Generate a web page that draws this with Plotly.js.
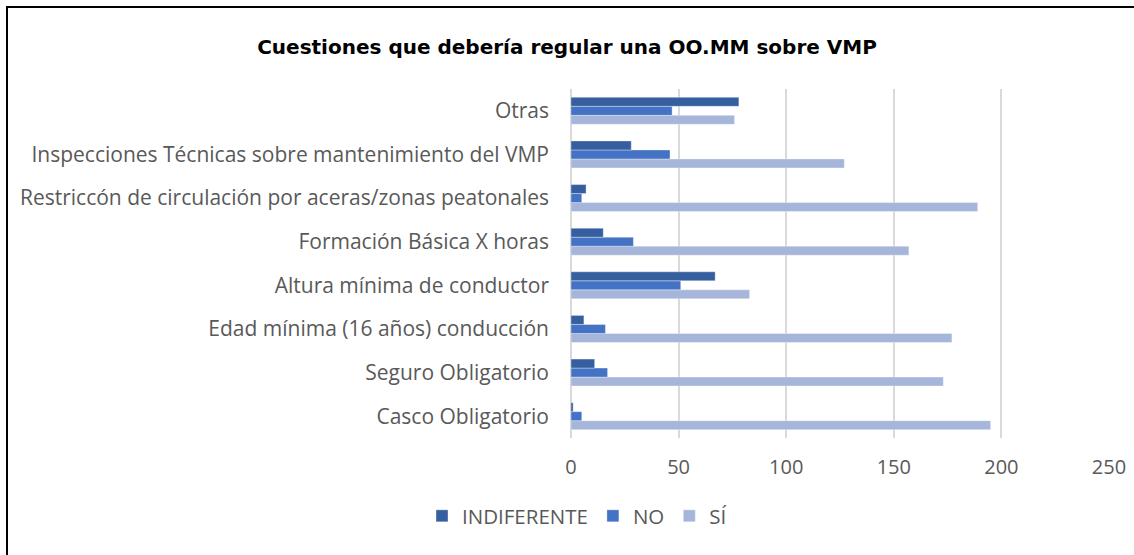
<!DOCTYPE html>
<html>
<head>
<meta charset="utf-8">
<script src="https://cdn.plot.ly/plotly-3.0.1.min.js"></script>
<style>
html,body{margin:0;padding:0;background:#fff;}
#wrap{position:relative;width:1134px;height:555px;overflow:hidden;}
#frame{position:absolute;left:6px;top:6px;width:1200px;height:600px;border-left:2px solid #000;border-top:2px solid #000;pointer-events:none;z-index:5;}
#chart{position:absolute;left:0;top:0;width:1134px;height:555px;}
</style>
</head>
<body>
<div id="wrap"><div id="chart"></div><div id="frame"></div></div>
<script>
const categories = [
  "Otras",
  "Inspecciones Técnicas sobre mantenimiento del VMP",
  "Restriccón de circulación por aceras/zonas peatonales",
  "Formación Básica X horas",
  "Altura mínima de conductor",
  "Edad mínima (16 años) conducción",
  "Seguro Obligatorio",
  "Casco Obligatorio"
];
const indiferente = [78, 28, 7, 15, 67, 6, 11, 1];
const no = [47, 46, 5, 29, 51, 16, 17, 5];
const si = [76, 127, 189, 157, 83, 177, 173, 195];
const seriesNames = ["INDIFERENTE", "NO", "SÍ"];
const xTicks = [0, 50, 100, 150, 200, 250];

const colors = {INDIFERENTE: "#365FA0", NO: "#4472C4", "SÍ": "#A6B5DA"};
function tr(name, vals){
  return {type:"bar", orientation:"h", name:name, y:categories, x:vals,
    marker:{color:colors[name], line:{color:"rgba(255,255,255,0.6)", width:0.6}},
    hoverinfo:"x+y"};
}
const data = [tr(seriesNames[2], si), tr(seriesNames[1], no), tr(seriesNames[0], indiferente)];
const font = "'Open Sans', Lato, sans-serif";
const layout = {
  width:1134, height:555,
  margin:{l:571, r:25, t:89, b:117, pad:0},
  paper_bgcolor:"#fff", plot_bgcolor:"#fff",
  barmode:"group", bargap:0.38, bargroupgap:0,
  title:{text:"<b>Cuestiones que debería regular una OO.MM sobre VMP</b>",
    font:{family:"'DejaVu Sans', Arial, sans-serif", size:20, color:"#000"},
    x:0.5, xref:"container", xanchor:"center", y:1-47/555, yref:"container", yanchor:"middle"},
  xaxis:{range:[0,250], tickvals:xTicks, ticktext:xTicks.map(String),
    showgrid:true, gridcolor:"#D9D9D9", gridwidth:2, zeroline:true, zerolinecolor:"#D9D9D9", zerolinewidth:2,
    showline:false, ticks:"", tickfont:{family:font, size:20, color:"#595959"}, ticklabelstandoff:15, fixedrange:true},
  yaxis:{type:"category", categoryorder:"array", categoryarray:categories.slice().reverse(),
    showgrid:false, zeroline:false, showline:false, ticks:"", ticklabelstandoff:21,
    tickfont:{family:font, size:21, color:"#595959"}, fixedrange:true},
  showlegend:true,
  legend:{orientation:"h", traceorder:"reversed", x:(577-571)/538, xanchor:"center", y:(438-516)/349, yanchor:"middle",
    font:{family:font, size:20.5, color:"#595959"}, itemwidth:30, bgcolor:"rgba(0,0,0,0)"},
  hovermode:false
};
Plotly.newPlot("chart", data, layout, {displayModeBar:false, staticPlot:true});
</script>
</body>
</html>
